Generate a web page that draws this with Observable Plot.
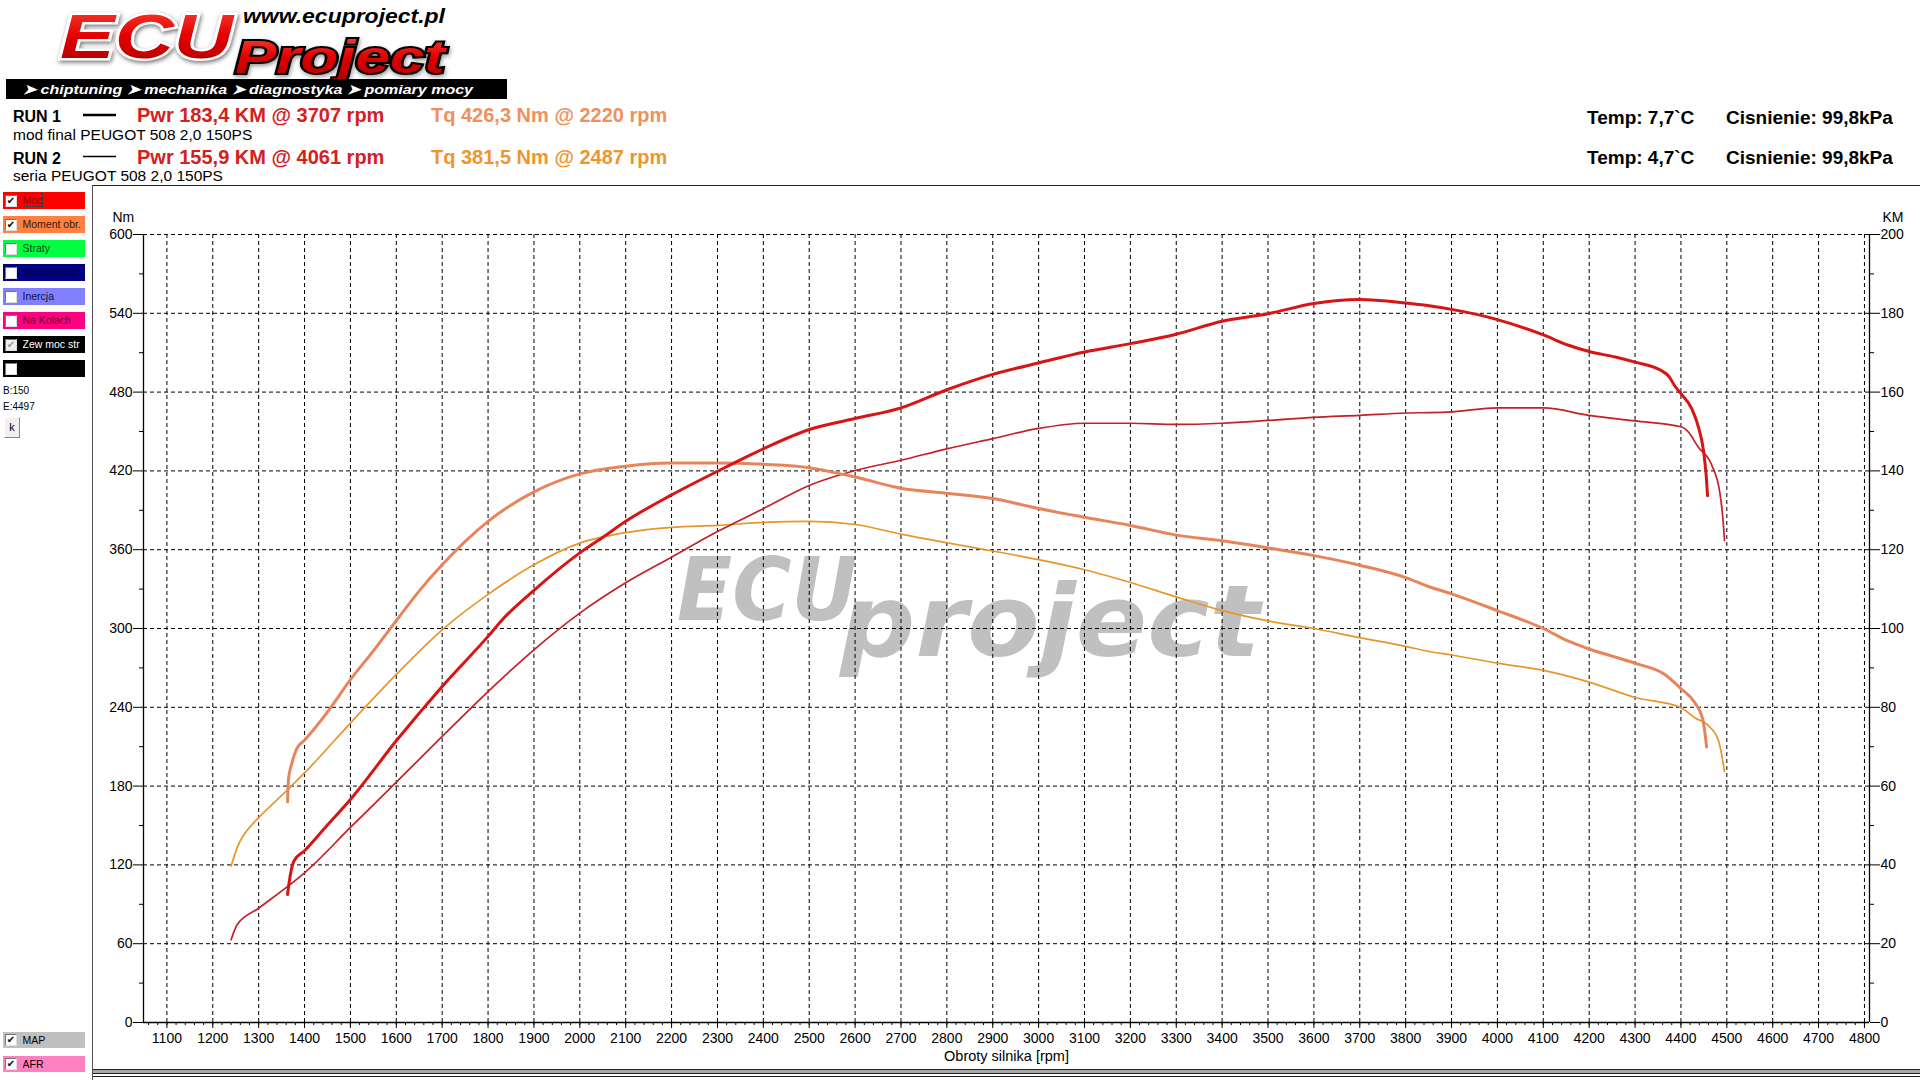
<!DOCTYPE html>
<html><head><meta charset="utf-8">
<script src="https://cdn.jsdelivr.net/npm/d3@7"></script>
<script src="https://cdn.jsdelivr.net/npm/@observablehq/plot@0.6"></script>
<style>
html,body{margin:0;padding:0;background:#fff;}
body{width:1920px;height:1080px;position:relative;overflow:hidden;font-family:"Liberation Sans",Arial,sans-serif;}
#bg{position:absolute;left:0;top:0;z-index:0}
#chart{position:absolute;left:93px;top:186px;width:1827px;z-index:1}
#hdr{position:absolute;left:0;top:0;z-index:2}
.item{position:absolute;left:3px;width:82px;height:17px;font-size:10.5px;line-height:17px;box-sizing:border-box;z-index:3}
.cb{position:absolute;left:2px;top:2.5px;width:12px;height:12px;background:#fff;box-sizing:border-box;border:1px solid #777;border-right-color:#ddd;border-bottom-color:#ddd;font-size:10px;line-height:10px;text-align:center;color:#000;font-family:"DejaVu Sans",sans-serif;}
.cb.dis{color:#999;background:#eee}
.lbl{position:absolute;left:19.5px;top:0;white-space:nowrap;overflow:hidden;width:62px;}
.small{position:absolute;left:3px;font-size:10px;color:#000;z-index:3}
.hline{position:absolute;z-index:3}
</style></head>
<body>
<!-- watermark behind the chart -->
<svg id="bg" width="1920" height="1080">
  <text x="677" y="620" font-family="DejaVu Sans" font-weight="bold" font-style="italic" font-size="88" fill="#c0c0c0" textLength="180" lengthAdjust="spacingAndGlyphs">ECU</text>
  <text x="840" y="656" font-family="DejaVu Sans" font-weight="bold" font-style="italic" font-size="100" fill="#c0c0c0" textLength="420" lengthAdjust="spacingAndGlyphs">project</text>
</svg>

<div id="chart"></div>

<svg id="hdr" width="1920" height="186" style="white-space:pre">
  <defs>
    <linearGradient id="lg" x1="0" y1="0" x2="0" y2="1">
      <stop offset="0" stop-color="#ff4a3a"/><stop offset="0.5" stop-color="#e30000"/><stop offset="1" stop-color="#a80000"/>
    </linearGradient>
  </defs>
  <text x="60" y="58" font-family="Liberation Sans" font-weight="bold" font-style="italic" font-size="63" fill="url(#lg)" stroke="#ffffff" stroke-width="5" paint-order="stroke" textLength="173" lengthAdjust="spacingAndGlyphs" style="filter:drop-shadow(1px 2px 2px #777)">ECU</text>
  <text x="243" y="23" font-family="Liberation Sans" font-weight="bold" font-style="italic" font-size="20" fill="#000" textLength="202" lengthAdjust="spacingAndGlyphs">www.ecuproject.pl</text>
  <text x="235" y="73" font-family="Liberation Sans" font-weight="bold" font-style="italic" font-size="46" fill="url(#lg)" stroke="#000" stroke-width="4" paint-order="stroke" textLength="210" lengthAdjust="spacingAndGlyphs" style="filter:drop-shadow(1px 2px 2px #999)">Project</text>
  <rect x="6" y="79" width="501" height="20" fill="#000"/>
  <text x="23" y="94" font-family="Liberation Sans" font-weight="bold" font-style="italic" font-size="13.5" fill="#fff" textLength="450" lengthAdjust="spacingAndGlyphs">➤ chiptuning  ➤ mechanika  ➤ diagnostyka  ➤ pomiary mocy</text>

  <text x="13" y="121.5" font-family="Liberation Sans" font-weight="bold" font-size="16" fill="#000">RUN 1</text>
  <line x1="83" x2="116" y1="115" y2="115" stroke="#000" stroke-width="2.5"/>
  <text x="137" y="121.5" font-family="Liberation Sans" font-weight="bold" font-size="20" fill="#d42020">Pwr  183,4 KM @ 3707 rpm</text>
  <text x="431" y="121.5" font-family="Liberation Sans" font-weight="bold" font-size="20" fill="#f0905c">Tq 426,3 Nm @ 2220 rpm</text>
  <text x="13" y="139.5" font-family="Liberation Sans" font-size="15.5" fill="#000">mod final PEUGOT 508 2,0 150PS</text>

  <text x="13" y="164" font-family="Liberation Sans" font-weight="bold" font-size="16" fill="#000">RUN 2</text>
  <line x1="83" x2="116" y1="156.5" y2="156.5" stroke="#000" stroke-width="1.3"/>
  <text x="137" y="163.5" font-family="Liberation Sans" font-weight="bold" font-size="20" fill="#d42020">Pwr  155,9 KM @ 4061 rpm</text>
  <text x="431" y="163.5" font-family="Liberation Sans" font-weight="bold" font-size="20" fill="#f0952e">Tq 381,5 Nm @ 2487 rpm</text>
  <text x="13" y="181" font-family="Liberation Sans" font-size="15.5" fill="#000">seria PEUGOT 508 2,0 150PS</text>

  <text x="1587" y="124" font-family="Liberation Sans" font-weight="bold" font-size="19" fill="#000">Temp: 7,7`C</text>
  <text x="1726" y="124" font-family="Liberation Sans" font-weight="bold" font-size="19" fill="#000">Cisnienie: 99,8kPa</text>
  <text x="1587" y="163.5" font-family="Liberation Sans" font-weight="bold" font-size="19" fill="#000">Temp: 4,7`C</text>
  <text x="1726" y="163.5" font-family="Liberation Sans" font-weight="bold" font-size="19" fill="#000">Cisnienie: 99,8kPa</text>
</svg>

<!-- frame lines -->
<div class="hline" style="left:92px;top:185px;width:1828px;height:1px;background:#222"></div>
<div class="hline" style="left:92px;top:185px;width:1px;height:895px;background:#555"></div>
<div class="hline" style="left:93px;top:1069px;width:1827px;height:3px;background:#a8a8a8;border-top:1px solid #222;border-bottom:1px solid #222"></div>
<div class="hline" style="left:93px;top:1076px;width:1827px;height:1px;background:#222"></div>

<!-- left panel -->
<div class="item" style="top:192px;background:#ff0000;color:#900000"><div class="cb">✔</div><div class="lbl"><span style="outline:1px dotted #333">Moc</span></div></div>
<div class="item" style="top:216px;background:#ff8040;color:#3a1800"><div class="cb">✔</div><div class="lbl">Moment obr.</div></div>
<div class="item" style="top:240px;background:#00ff40;color:#004010"><div class="cb"></div><div class="lbl">Straty</div></div>
<div class="item" style="top:264px;background:#000080;color:#000050"><div class="cb"></div><div class="lbl">Hamowana</div></div>
<div class="item" style="top:288px;background:#8080ff;color:#101040"><div class="cb"></div><div class="lbl">Inercja</div></div>
<div class="item" style="top:312px;background:#ff0080;color:#700030"><div class="cb"></div><div class="lbl">Na Kolach</div></div>
<div class="item" style="top:336px;background:#000;color:#fff"><div class="cb dis">✔</div><div class="lbl">Zew moc str</div></div>
<div class="item" style="top:360px;background:#000;color:#fff"><div class="cb"></div><div class="lbl"></div></div>
<div class="small" style="top:385px">B:150</div>
<div class="small" style="top:401px">E:4497</div>
<div class="small" style="top:417px;left:4px;width:16px;height:21px;background:#f0f0f0;border:1px solid #fff;border-right-color:#888;border-bottom-color:#888;box-sizing:border-box;text-align:center;line-height:19px;font-size:11px">k</div>
<div class="item" style="top:1032px;height:16px;line-height:16px;background:#c0c0c0;color:#000"><div class="cb" style="top:2px">✔</div><div class="lbl">MAP</div></div>
<div class="item" style="top:1056px;height:16px;line-height:16px;background:#ff80c0;color:#000"><div class="cb" style="top:2px">✔</div><div class="lbl">AFR</div></div>

<script>
// ---- data ----
const run1PwrRpm = [1363,1366,1377,1400,1449,1500,1600,1700,1800,1834,1900,2000,2052,2100,2200,2300,2400,2500,2600,2700,2800,2900,3000,3100,3200,3300,3400,3500,3600,3700,3800,3851,3900,4000,4100,4155,4200,4257,4300,4358,4373,4387,4400,4424,4438,4449,4455,4458];
const run1PwrKm  = [32.5,35.2,41.0,43.6,50.0,56.6,71.5,85.3,98.0,102.6,109.7,119.2,123.3,127.2,133.9,139.9,145.6,150.5,153.3,156.0,160.6,164.5,167.4,170.2,172.3,174.7,178.0,179.9,182.5,183.5,182.6,181.9,181.0,178.4,174.5,171.9,170.3,168.9,167.6,165.4,164.1,161.5,159.6,155.7,151.2,145.3,138.9,133.7];

const run1TqRpm = [1363,1365,1372,1383,1400,1449,1500,1550,1600,1651,1700,1800,1900,2000,2100,2200,2300,2400,2500,2558,2600,2700,2800,2900,3000,3100,3200,3300,3400,3500,3600,3700,3800,3851,3900,4000,4100,4155,4200,4300,4365,4400,4430,4448,4456];
const run1TqNm  = [168,185.5,197,208.6,215,236,261,283,306,329,348.5,381.6,404,417.7,423.6,426,426,425,422.4,418.5,415.4,406.8,403,399,391.3,384.7,378.5,371.1,366.8,361.4,355.5,348.2,338.8,331.8,326.4,313.6,300,290.3,284.4,273.6,265,254.2,243.6,230,209.8];

const run2PwrRpm = [1240,1253,1300,1364,1400,1500,1600,1700,1800,1900,2000,2100,2200,2300,2400,2500,2600,2700,2800,2900,3000,3100,3200,3300,3400,3500,3600,3700,3800,3851,3900,4000,4100,4200,4300,4400,4416,4438,4467,4485,4491,4495];
const run2PwrKm  = [21,24.8,29,34.6,38,49.5,61,72.6,84,94.6,103.9,111.6,118.1,124.6,130.4,136.3,140.1,142.7,145.6,148.2,150.8,152.1,152.1,151.8,152.1,152.8,153.6,154.1,154.7,154.8,155,156,156,154.1,152.7,151.2,149.9,146,141.5,134.3,128.5,122.3];

const run2TqRpm = [1240,1253,1289,1300,1364,1400,1500,1600,1700,1800,1900,2000,2052,2100,2200,2300,2400,2500,2600,2700,2800,2900,3000,3100,3200,3300,3400,3500,3600,3700,3800,3851,3900,4000,4100,4200,4300,4400,4431,4460,4482,4495];
const run2TqNm  = [119.2,133,152,156,177.5,190,228,265,299,326,348.5,365,369.9,373,377,378.5,380.8,381.6,379.2,371.9,365.3,359,352.4,344.7,335,324.1,313.6,305.8,300,293,286.4,282.5,279.8,273.6,268.1,259.2,247.5,239.7,231.9,226,214.5,191.1];

const xDomain  = [1049, 4811];
const nmDomain = [0, 600];
const kmDomain = [0, 200];
const rpmTicks = d3.range(1100, 4801, 100);
const rpmMinor = d3.range(1060, 4811, 20);
const nmTicks  = d3.range(0, 601, 60);
const nmMinor  = d3.range(30, 600, 60);

const kmToNm = nmDomain[1] / kmDomain[1];
const toRows = (rpm, vals, k = 1) => rpm.map((r, i) => ({rpm: r, v: vals[i] * k}));
const run1Pwr = toRows(run1PwrRpm, run1PwrKm, kmToNm);
const run1Tq  = toRows(run1TqRpm, run1TqNm);
const run2Pwr = toRows(run2PwrRpm, run2PwrKm, kmToNm);
const run2Tq  = toRows(run2TqRpm, run2TqNm);

const grid = {stroke: "#000", strokeOpacity: 1, strokeWidth: 1, strokeDasharray: "4,3"};

const chart = Plot.plot({
  width: 1827, height: 884,
  marginLeft: 50, marginRight: 51, marginTop: 48, marginBottom: 48,
  x: {domain: xDomain},
  y: {domain: nmDomain},
  style: {background: "transparent", fontFamily: '"Liberation Sans", Arial, sans-serif', fontSize: "14px", color: "#000", overflow: "visible"},
  marks: [
    Plot.gridX(rpmTicks, grid),
    Plot.gridY(nmTicks.filter(d => d > 0), grid),
    Plot.axisX(rpmMinor, {tickSize: 3, tickFormat: () => "", label: null}),
    Plot.axisX(rpmTicks, {tickSize: 6, tickPadding: 5, label: null, tickFormat: d => String(d)}),
    Plot.axisY(nmMinor, {anchor: "left", tickSize: 4, tickFormat: () => "", label: null}),
    Plot.axisY(nmTicks, {anchor: "left", tickSize: 10, tickPadding: 1, label: null, tickFormat: d => String(d)}),
    Plot.axisY(nmMinor, {anchor: "right", tickSize: 4, tickFormat: () => "", label: null}),
    Plot.axisY(nmTicks, {anchor: "right", tickSize: 10, tickPadding: 1, label: null, tickFormat: d => String(d / kmToNm)}),
    Plot.ruleY([nmDomain[0]], {stroke: "#000", strokeWidth: 1.3}),
    Plot.ruleX(xDomain, {stroke: "#000", strokeWidth: 1.3}),
    Plot.text(["Nm"], {text: d => d, frameAnchor: "top-left", dx: -31, dy: -22, textAnchor: "start", fill: "#000"}),
    Plot.text(["KM"], {text: d => d, frameAnchor: "top-right", dx: 13, dy: -22, textAnchor: "start", fill: "#000"}),
    Plot.text(["Obroty silnika [rpm]"], {text: d => d, frameAnchor: "bottom", dy: 38, fontSize: 14.5, fill: "#000"}),
    Plot.line(run2Tq,  {x: "rpm", y: "v", stroke: "#e8952a", strokeWidth: 1.7, curve: "monotone-x"}),
    Plot.line(run2Pwr, {x: "rpm", y: "v", stroke: "#c42028", strokeWidth: 1.7, curve: "monotone-x"}),
    Plot.line(run1Tq,  {x: "rpm", y: "v", stroke: "#e8845a", strokeWidth: 3, curve: "monotone-x"}),
    Plot.line(run1Pwr, {x: "rpm", y: "v", stroke: "#d81414", strokeWidth: 3, curve: "monotone-x"})
  ]
});
document.getElementById("chart").appendChild(chart);
</script>
</body></html>
